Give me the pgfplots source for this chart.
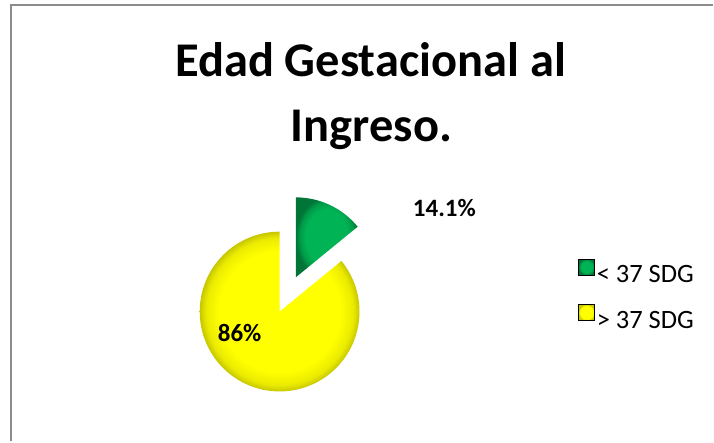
\documentclass[border=0pt]{standalone}
\usepackage{pgfplots}
\pgfplotsset{compat=1.18}
\usepackage{pgfplotstable}
\usepackage{fontspec}
\setmainfont{Carlito}
\usetikzlibrary{calc}

\definecolor{piegreen}{RGB}{0,180,85}
\definecolor{pieyellow}{RGB}{255,255,0}
\definecolor{framegray}{RGB}{140,140,140}

% bevel-like shading for the slices (the path box covers the central 50bp)
\pgfdeclareradialshading{bevelyellow}{\pgfpoint{0bp}{0bp}}{%
  color(0bp)=(pieyellow); color(19bp)=(pieyellow); color(23bp)=(pieyellow!92!black);
  color(25bp)=(pieyellow!78!black); color(50bp)=(pieyellow!78!black)}
\pgfdeclareradialshading{bevelgreen}{\pgfpoint{0bp}{0bp}}{%
  color(0bp)=(piegreen); color(17bp)=(piegreen); color(22bp)=(piegreen!85!black);
  color(25bp)=(piegreen!65!black); color(50bp)=(piegreen!65!black)}

\begin{document}
\pgfplotstableread[col sep=comma]{
label,value
< 37 SDG,14.1
> 37 SDG,86
}\pietable
\begin{tikzpicture}
\pgfplotstablegetelem{0}{value}\of\pietable\let\va\pgfplotsretval
\pgfplotstablegetelem{1}{value}\of\pietable\let\vb\pgfplotsretval
\pgfplotstablegetelem{0}{label}\of\pietable\let\la\pgfplotsretval
\pgfplotstablegetelem{1}{label}\of\pietable\let\lb\pgfplotsretval
\pgfmathsetmacro\angA{360*\va/(\va+\vb)}
\pgfmathsetmacro\midA{90-\angA/2}
\pgfmathsetmacro\endB{450-\angA}
\begin{axis}[
    x=1pt, y=1pt,
    xmin=0, xmax=714, ymin=0, ymax=442,
    hide axis,
    clip=false,
    legend style={at={(axis cs:579,183)}, anchor=north west, draw=none, fill=none,
                  font=\fontsize{26.5}{31}\selectfont, row sep=18pt, inner sep=0pt,
                  cells={anchor=west}},
    legend image code/.code={\shade[#1] (0pt,0pt) rectangle (16pt,16pt);},
]
\path (axis cs:0,0) rectangle (axis cs:714,442);

% frame of the chart area
\draw[framegray, line width=2pt] (axis cs:11,0) -- (axis cs:11,436.5) -- (axis cs:714,436.5);

% title
\node[anchor=base, font=\fontsize{48.5}{58}\selectfont\bfseries] at (axis cs:371,365) {Edad Gestacional al};
\node[anchor=base, font=\fontsize{48.5}{58}\selectfont\bfseries] at (axis cs:372,300) {Ingreso.};

% slices (first slice starts at 12 o'clock, clockwise, exploded)
\shade[shading=bevelyellow] (axis cs:280,130) -- ++(90:80pt)
    arc[start angle=90, end angle=\endB, radius=80pt] -- cycle;
\shade[shading=bevelgreen] ($(axis cs:280,130)+(\midA:38pt)$) -- ++(90:80pt)
    arc[start angle=90, end angle=90-\angA, radius=80pt] -- cycle;

% data labels
\node[font=\fontsize{25}{30}\selectfont\bfseries] at (axis cs:445,234) {\va\%};
\node[font=\fontsize{25}{30}\selectfont\bfseries] at (axis cs:240,108.5) {\vb\%};

\addlegendimage{shading=bevelgreen}
\addlegendentry{\la}
\addlegendimage{shading=bevelyellow}
\addlegendentry{\lb}
\end{axis}
\end{tikzpicture}
\end{document}
